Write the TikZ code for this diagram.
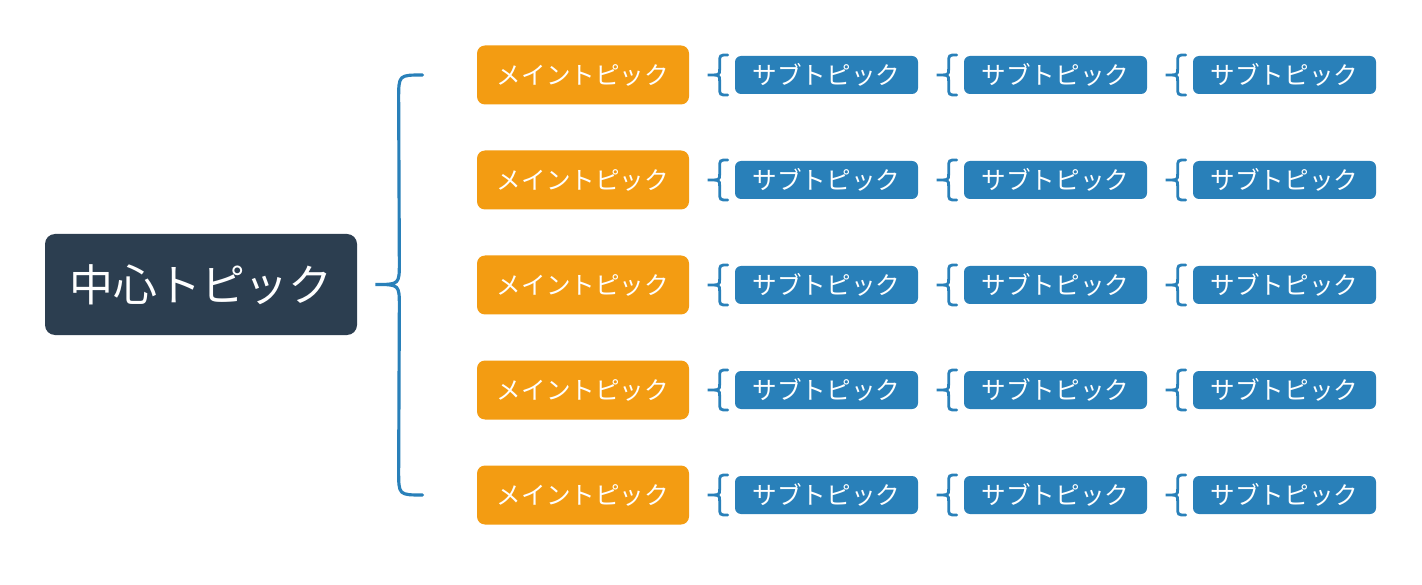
\documentclass[tikz,border=0pt]{standalone}
\usepackage{fontspec}
\setmainfont{Noto Sans CJK JP}
\usetikzlibrary{calc}
\definecolor{centerblue}{HTML}{2C3E50}
\definecolor{mainorange}{HTML}{F39C12}
\definecolor{subblue}{HTML}{2980B9}
\tikzset{
	centerbox/.style={fill=centerblue, text=white, rounded corners=0.2cm, minimum width=6.24cm, minimum height=2.02cm, font=\fontsize{25pt}{28pt}\selectfont},
	mainbox/.style={fill=mainorange, text=white, rounded corners=0.16cm, minimum width=4.24cm, minimum height=1.18cm, font=\fontsize{14pt}{16pt}\selectfont},
	subbox/.style={fill=subblue, text=white, rounded corners=0.12cm, minimum width=3.66cm, minimum height=0.76cm, font=\fontsize{14pt}{16pt}\selectfont},
	brace/.style={draw=subblue, line width=1.6pt, line cap=round}
}
\def\subbrace(#1){\draw[brace] ($(#1.west)+(-0.14,0.4)$) .. controls ($(#1.west)+(-0.3,0.4)$) .. ($(#1.west)+(-0.3,0.24)$) -- ($(#1.west)+(-0.3,0.12)$) .. controls ($(#1.west)+(-0.3,0)$) .. ($(#1.west)+(-0.54,0)$) .. controls ($(#1.west)+(-0.3,0)$) .. ($(#1.west)+(-0.3,-0.12)$) -- ($(#1.west)+(-0.3,-0.24)$) .. controls ($(#1.west)+(-0.3,-0.4)$) .. ($(#1.west)+(-0.14,-0.4)$);}

\begin{document}
\begin{tikzpicture}
			%%%%% START %%%%%
			
			\fill[white] (0, 0) rectangle (28.44, -11.7);
			\useasboundingbox (0, 0) rectangle (28.44, -11.7);
			
			\node[centerbox] (c) at (4.02, -5.69) {中心トピック};
			
			\node[mainbox] (m1) at (11.66, -1.5) {メイントピック};
			\node[mainbox] (m2) at (11.66, -3.6) {メイントピック};
			\node[mainbox] (m3) at (11.66, -5.7) {メイントピック};
			\node[mainbox] (m4) at (11.66, -7.8) {メイントピック};
			\node[mainbox] (m5) at (11.66, -9.9) {メイントピック};
			
			\coordinate (tip) at ($(c.east)+(0.36, 0)$);
			\coordinate (top) at ($(m1.west)+(-1.08, 0)$);
			\coordinate (bot) at ($(m5.west)+(-1.08, 0)$);
			\draw[brace, line width=1.8pt] (top) .. controls ($(top)+(-0.48, 0)$) .. ($(top)+(-0.48, -0.48)$) -- ($(tip)+(0.48, 0.44)$) .. controls ($(tip)+(0.48, 0)$) .. (tip) .. controls ($(tip)+(0.48, 0)$) .. ($(tip)+(0.48, -0.44)$) -- ($(bot)+(-0.48, 0.48)$) .. controls ($(bot)+(-0.48, 0)$) .. (bot);
			
			\foreach \r in {1,...,5} {
				\node[subbox] (s\r a) at ($(m\r)+(4.87, 0)$) {サブトピック};
				\node[subbox] (s\r b) at ($(m\r)+(9.45, 0)$) {サブトピック};
				\node[subbox] (s\r c) at ($(m\r)+(14.03, 0)$) {サブトピック};
				\subbrace(s\r a)
				\subbrace(s\r b)
				\subbrace(s\r c)
			}
			
			%%%%% END %%%%%
\end{tikzpicture}
\end{document}
